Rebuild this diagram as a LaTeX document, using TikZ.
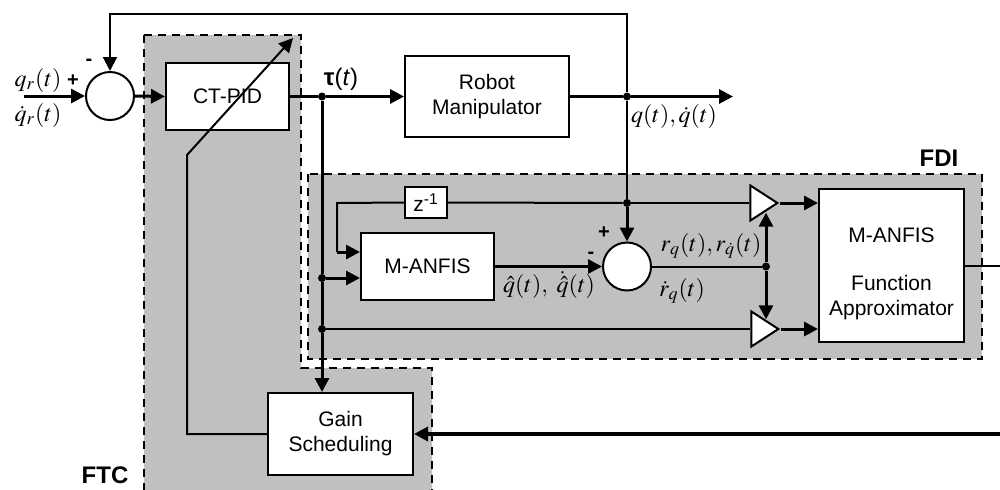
\documentclass[tikz,border=0pt]{standalone}
\usepackage{mathptmx}
\usepackage[no-math]{fontspec}
\setmainfont{Liberation Serif}
\setsansfont{Liberation Sans}
\usetikzlibrary{arrows.meta,shapes.geometric}
\definecolor{shade}{RGB}{192,192,192}

\begin{document}
\begin{tikzpicture}[x=0.5pt,y=-0.5pt,
  every node/.style={font=\sffamily\fontsize{10.5}{12.5}\selectfont},
  blk/.style={draw, line width=1pt, fill=white, inner sep=0pt, align=center},
  sumnode/.style={draw, circle, line width=1pt, fill=white, minimum size=24pt, inner sep=0pt},
  amp/.style={draw, line width=1pt, fill=white, isosceles triangle, isosceles triangle stretches,
              shape border rotate=0, minimum width=17.5pt, minimum height=13.5pt, inner sep=0pt, anchor=apex},
  thk/.style={line width=1.5pt},
  thn/.style={line width=1pt},
  arr/.style={-{Triangle[length=7pt,width=7pt]}},
  jdot/.style={circle, fill=black, inner sep=0pt, minimum size=4pt},
  region/.style={draw, dash pattern=on 4pt off 3pt, line width=1pt, fill=shade},
  mlab/.style={font=\fontsize{12}{14}\selectfont, inner sep=0pt},
  sign/.style={font=\sffamily\bfseries\fontsize{10}{12}\selectfont, inner sep=0pt},
  title/.style={font=\sffamily\bfseries\fontsize{12}{14}\selectfont, inner sep=0pt},
]
\useasboundingbox (0,0) rectangle (1000,489);

% shaded regions
\path[region] (144,35) -- (301,35) -- (301,368) -- (432,368) -- (432,500) -- (144,500) -- cycle;
\path[region] (308,174) rectangle (982,359);
\node[title] (ftc) at (105,475) {FTC};
\node[title] (fdi) at (939,158) {FDI};

% blocks
\node[sumnode] (sum1) at (110,96) {};
\node[blk, minimum width=61.5pt, minimum height=33.5pt] (pid) at (227.5,96.5) {CT-PID};
\node[blk, minimum width=82pt, minimum height=40.5pt] (robot) at (487,96.5) {Robot\\Manipulator};
\node[blk, minimum width=21pt, minimum height=15.5pt] (zb) at (426,202.5) {z\textsuperscript{-1}};
\node[blk, minimum width=66.5pt, minimum height=33.5pt] (manfis) at (427.5,266.5) {M-ANFIS};
\node[sumnode] (sum2) at (627,266.5) {};
\node[amp] (tri1) at (780,203) {};
\node[amp] (tri2) at (781,329) {};
\node[blk, minimum width=72.5pt, minimum height=76.5pt] (fa) at (891.5,265.5) {};
\node (fa1) at (891.5,235) {M-ANFIS};
\node[align=center] (fa2) at (891.5,298) {Function\\Approximator};
\node[blk, minimum width=72.5pt, minimum height=41pt] (gain) at (340.5,434) {Gain\\Scheduling};

% junctions and free ends
\coordinate (qin) at (24,96);
\coordinate (qout) at (733,96.5);
\node[jdot] (j1) at (322,96.5) {};
\node[jdot] (j2) at (627,96.5) {};
\node[jdot] (j3) at (627,203) {};
\node[jdot] (j4) at (322,278) {};
\node[jdot] (j5) at (322,329) {};
\node[jdot] (j6) at (766,266.5) {};
\coordinate (top) at (627,14);
\coordinate (zc) at (337,203);
\coordinate (zin) at (337,252);
\coordinate (fo) at (1000,265.5);
\coordinate (gin) at (1000,434);
\coordinate (gc) at (187,434);
\coordinate (gk) at (187,155);
\coordinate (gtip) at (293,38);

% main loop
\draw[thk, arr] (qin) -- (sum1.west);
\draw[thk, arr] (sum1.east) -- (pid.west);
\draw[thk] (pid.east) -- (j1);
\draw[thk, arr] (j1) -- (robot.west);
\draw[thk] (robot.east) -- (j2);
\draw[thk, arr] (j2) -- (qout);
\draw[thn, arr] (j2) -- (top) -| (sum1.north);

% fault detection part
\draw[thn] (j2) -- (j3);
\draw[thk, arr] (j3) -- (sum2.north);
\draw[thn] (j3) -- (zb.east);
\draw[thn] (zb.west) -- (zc) -- (zin);
\draw[thk, arr] (zin) -- (zin -| manfis.west);
\draw[thk] (j1) -- (j4);
\draw[thk, arr] (j4) -- (j4 -| manfis.west);
\draw[thk] (j4) -- (j5);
\draw[thk, arr] (j5) -- (j5 |- gain.north);
\draw[thk, arr] (manfis.east) -- (sum2.west);
\draw[thn] (sum2.east) -- (j6);
\draw[thn] (j3) -- (tri1.west);
\draw[thn] (j5) -- (tri2.west);
\draw[thk, arr] (j6) -- (j6 |- tri1.right side);
\draw[thk, arr] (j6) -- (j6 |- tri2.left side);
\draw[thk, arr] (tri1.apex) -- (tri1.apex -| fa.west);
\draw[thk, arr] (tri2.apex) -- (tri2.apex -| fa.west);
\draw[thn] (fa.east |- fo) -- (fo);

% gain scheduling
\draw[line width=1.6pt, arr] (gin) -- (gain.east);
\draw[thn, arr] (gain.west) -- (gc) -- (gk) -- (gtip);

% signal labels
\node[sign] (p1) at (73,81) {+};
\node[sign] (m1) at (89,62) {-};
\node[sign] (p2) at (604,233) {+};
\node[sign] (m2) at (591,255) {-};
\node[mlab] (lqr) at (38,80) {$q_r(t)$};
\node[mlab] (lqrd) at (38,115) {$\dot q_r(t)$};
\node[font=\sffamily\fontsize{12}{14}\selectfont, inner sep=0pt] (ltau) at (341,79) {\textbf{τ}(\textit{t})};
\node[mlab] (lq) at (674,116) {$q(t), \dot q(t)$};
\node[mlab] (lqh) at (549,285) {$\hat q(t),\ \dot{\hat q}(t)$};
\node[mlab] (lr) at (711,246) {$r_q(t), r_{\dot q}(t)$};
\node[mlab] (lrd) at (682,291) {$\dot r_q(t)$};
\end{tikzpicture}
\end{document}
